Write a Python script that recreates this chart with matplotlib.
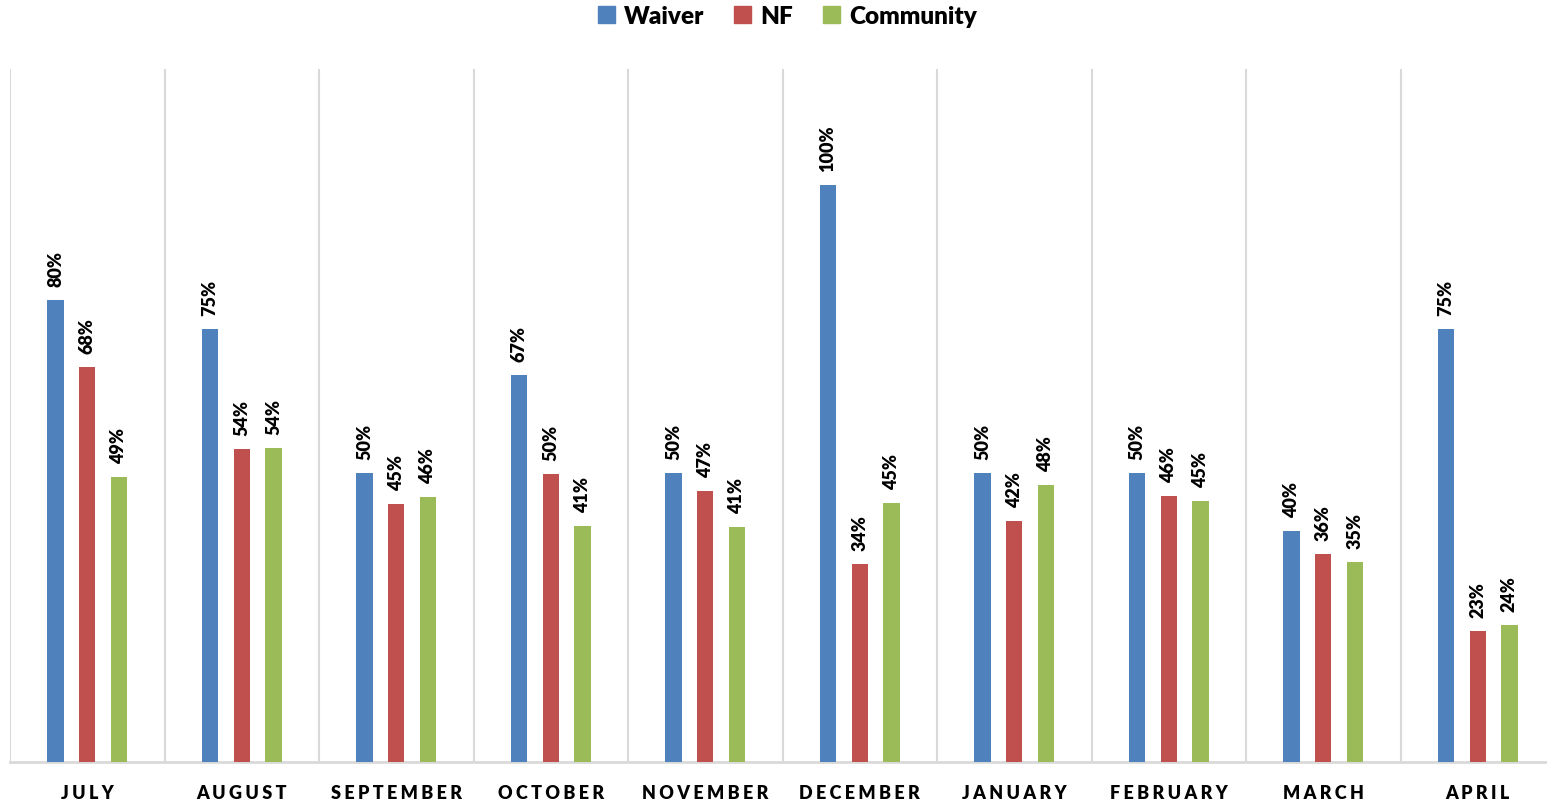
import numpy as np
import matplotlib.pyplot as plt
from matplotlib.patches import Patch

# Data
months = ["JULY", "AUGUST", "SEPTEMBER", "OCTOBER", "NOVEMBER",
          "DECEMBER", "JANUARY", "FEBRUARY", "MARCH", "APRIL"]
waiver = [0.80, 0.75, 0.50, 0.67, 0.50, 1.00, 0.50, 0.50, 0.40, 0.75]
nf = [0.684, 0.542, 0.447, 0.499, 0.47, 0.343, 0.418, 0.461, 0.36, 0.227]
community = [0.494, 0.544, 0.459, 0.409, 0.407, 0.449, 0.48, 0.452, 0.347, 0.237]

series = [("Waiver", waiver, "#4F81BD"),
          ("NF", nf, "#C0504D"),
          ("Community", community, "#9BBB59")]

plt.rcParams['font.family'] = ['Lato', 'DejaVu Sans']
plt.rcParams['font.weight'] = 'heavy'

fig = plt.figure(figsize=(15.47, 8.03), dpi=100)
ax = fig.add_axes([10 / 1547, 40 / 803, 1545 / 1547, 693 / 803])

x = np.arange(len(months))
offsets = [-0.205, 0.0, 0.205]
for (name, vals, color), off in zip(series, offsets):
    bars = ax.bar(x + off, vals, width=0.105, color=color, zorder=3)
    for b, v in zip(bars, vals):
        ax.annotate(f"{v:.0%}", (b.get_x() + b.get_width() / 2, v),
                    xytext=(0, 14), textcoords='offset pixels',
                    rotation=90, ha='center', va='bottom',
                    fontsize=13, fontweight='heavy', color='#000000')

ax.set_xlim(-0.5, len(months) - 0.5)
ax.set_ylim(0, 1.2)
ax.set_yticks([])

# category labels with letter spacing
ax.set_xticks(x)
ax.set_xticklabels(["\u2009\u200a".join(m) for m in months], fontsize=13, fontweight='heavy')
ax.tick_params(axis='x', length=0, pad=16)

# vertical separators between categories
ax.set_xticks(np.arange(-0.5, len(months)), minor=True)
ax.tick_params(axis='x', which='minor', length=0)
ax.grid(True, which='minor', axis='x', color='#D9D9D9', linewidth=1.5, zorder=0)
ax.grid(False, which='major')

for s in ['top', 'right', 'left']:
    ax.spines[s].set_visible(False)
ax.spines['bottom'].set_color('#D9D9D9')
ax.spines['bottom'].set_linewidth(2)

handles = [Patch(color=c, label=n) for n, _, c in series]
fig.legend(handles=handles, loc='upper center', bbox_to_anchor=(0.509, 1.02),
           ncol=3, frameon=False, handlelength=0.7,
           handleheight=0.7, handletextpad=0.4, columnspacing=1.2,
           prop={'weight': 'heavy', 'size': 17.5})

fig.savefig("out.png", dpi=100)
